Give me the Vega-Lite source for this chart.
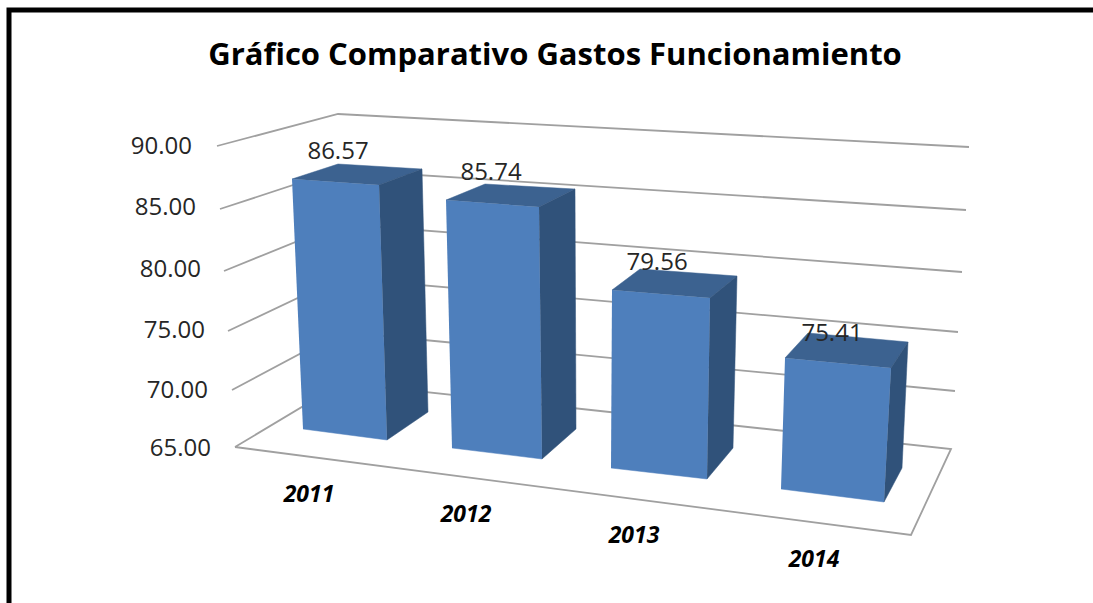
{"$schema":"https://vega.github.io/schema/vega-lite/v6.json","width":1100,"height":600,"autosize":{"type":"none"},"padding":{"left":9,"top":10,"right":0,"bottom":0},"background":"white","config":{"view":{"stroke":"black","strokeWidth":5,"fill":"white"},"text":{"font":"Open Sans"}},"title":{"text":"Gráfico Comparativo Gastos Funcionamiento","font":"Open Sans","fontWeight":"bold","fontSize":31,"color":"black","anchor":"middle","frame":"group","offset":-62,"dx":-4},"datasets":{"bars":[{"year":2011,"value":86.57},{"year":2012,"value":85.74},{"year":2013,"value":79.56},{"year":2014,"value":75.41}],"ticks":[{"tick":65},{"tick":70},{"tick":75},{"tick":80},{"tick":85},{"tick":90}]},"resolve":{"scale":{"x":"independent","y":"independent"}},"layer":[{"data":{"name":"ticks"},"transform":[{"fold":["left","corner","right","front","close"],"as":["vertex","unused"]},{"calculate":"indexof(['left','corner','right','front','close'],datum.vertex)","as":"seq"},{"filter":"datum.tick==65||datum.seq<3"},{"calculate":"datum.seq<3?(datum.tick-65)/5*3+datum.seq:15+datum.seq","as":"n"},{"calculate":"datum.tick-[0,-64,2,3.4,-54.6,4.4,4.8,-48.2,5.8,5.2,-41.8,6.2,3.6,-35.4,4.6,1,-31,2,88,0][datum.n]/12.08","as":"lineY"}],"mark":{"type":"line","stroke":"#a0a0a0","strokeWidth":1.8},"encoding":{"x":{"field":"n","type":"quantitative","axis":null,"scale":{"domain":[0,1,2,3,4,5,6,7,8,9,10,11,12,13,14,15,16,17,18,19],"range":[226,333,942,223,332,946,219,331,949,215,331,953,211,330,957,208,329,960,902,226]}},"y":{"field":"lineY","type":"quantitative","axis":null,"scale":{"domain":[51.507,101.175],"nice":false,"zero":false}},"detail":{"field":"tick"},"order":{"field":"seq"}}},{"data":{"name":"ticks"},"mark":{"type":"text","fontSize":24,"color":"#262626","baseline":"middle","align":"right"},"encoding":{"x":{"field":"tick","type":"quantitative","axis":null,"scale":{"domain":[65,70,75,80,85,90],"range":[202,199,196,192,187,183]}},"y":{"field":"tick","type":"quantitative","axis":null,"scale":{"domain":[65,70,75,80,85,90],"range":[439,381,321,260,198,137]}},"text":{"field":"tick","type":"quantitative","format":".2f"}}},{"data":{"name":"bars"},"encoding":{"x":{"field":"n","type":"quantitative","axis":null,"scale":{"domain":[0,1,2,3,4,5,6,7,8,9,10,11,12,13,14,15,16,17,18,19,20,21,22,23,24,25,26,27],"range":[283,370,378,294,329,413,419,437,530,533,443,476,566,567,603,701,698,602,631,728,724,776,882,875,772,799,899,893]}},"y":{"field":"faceY","type":"quantitative","axis":null,"scale":{"domain":[49.615,100.897],"nice":false,"zero":false}},"detail":{"field":"year"},"order":{"field":"seq"}},"layer":[{"transform":[{"fold":["FTL","FTR","FBR","FBL"],"as":["vertex","unused"]},{"calculate":"indexof(['FTL','FTR','FBR','FBL'],datum.vertex)","as":"seq"},{"calculate":"(datum.year-2011)*7+indexof(['FTL','FTR','FBR','FBL','BTL','BTR','BBR'],datum.vertex)","as":"n"},{"calculate":"(indexof(datum.vertex,'T')>=0?datum.value:65)-[1.4,7.4,10,-1,-13.6,-8.6,-18,12.7,19.7,29,18,-3.3,1.7,-1,30.4,38.4,49,38,9.4,16.4,18,49.8,59.8,72,59,24.8,33.8,38][datum.n]/11.7","as":"faceY"}],"mark":{"type":"line","fill":"#4e7fbc","stroke":"#4e7fbc","strokeWidth":0.5}},{"transform":[{"fold":["FTL","BTL","BTR","FTR"],"as":["vertex","unused"]},{"calculate":"indexof(['FTL','BTL','BTR','FTR'],datum.vertex)","as":"seq"},{"calculate":"(datum.year-2011)*7+indexof(['FTL','FTR','FBR','FBL','BTL','BTR','BBR'],datum.vertex)","as":"n"},{"calculate":"(indexof(datum.vertex,'T')>=0?datum.value:65)-[1.4,7.4,10,-1,-13.6,-8.6,-18,12.7,19.7,29,18,-3.3,1.7,-1,30.4,38.4,49,38,9.4,16.4,18,49.8,59.8,72,59,24.8,33.8,38][datum.n]/11.7","as":"faceY"}],"mark":{"type":"line","fill":"#3c6290","stroke":"#3c6290","strokeWidth":0.5}},{"transform":[{"fold":["FTR","BTR","BBR","FBR"],"as":["vertex","unused"]},{"calculate":"indexof(['FTR','BTR','BBR','FBR'],datum.vertex)","as":"seq"},{"calculate":"(datum.year-2011)*7+indexof(['FTL','FTR','FBR','FBL','BTL','BTR','BBR'],datum.vertex)","as":"n"},{"calculate":"(indexof(datum.vertex,'T')>=0?datum.value:65)-[1.4,7.4,10,-1,-13.6,-8.6,-18,12.7,19.7,29,18,-3.3,1.7,-1,30.4,38.4,49,38,9.4,16.4,18,49.8,59.8,72,59,24.8,33.8,38][datum.n]/11.7","as":"faceY"}],"mark":{"type":"line","fill":"#30527a","stroke":"#30527a","strokeWidth":0.5}}]},{"data":{"name":"bars"},"transform":[{"calculate":"datum.value-[-25.6,-14.3,3.4,25.8][datum.year-2011]/11.7","as":"labelY"}],"mark":{"type":"text","fontSize":24,"color":"#262626","baseline":"middle","align":"center"},"encoding":{"x":{"field":"year","type":"quantitative","axis":null,"scale":{"domain":[2011,2012,2013,2014],"range":[329,482,648,823]}},"y":{"field":"labelY","type":"quantitative","axis":null,"scale":{"domain":[49.615,100.897],"nice":false,"zero":false}},"text":{"field":"value","type":"quantitative","format":".2f"}}},{"data":{"name":"bars"},"mark":{"type":"text","fontSize":23,"fontWeight":"bold","fontStyle":"italic","color":"black","baseline":"middle","align":"center"},"encoding":{"x":{"field":"year","type":"quantitative","axis":null,"scale":{"domain":[2011,2012,2013,2014],"range":[300,457,625,805]}},"y":{"field":"year","type":"quantitative","axis":null,"scale":{"domain":[2011,2012,2013,2014],"range":[485,505,526,550]}},"text":{"field":"year","type":"nominal"}}}]}
